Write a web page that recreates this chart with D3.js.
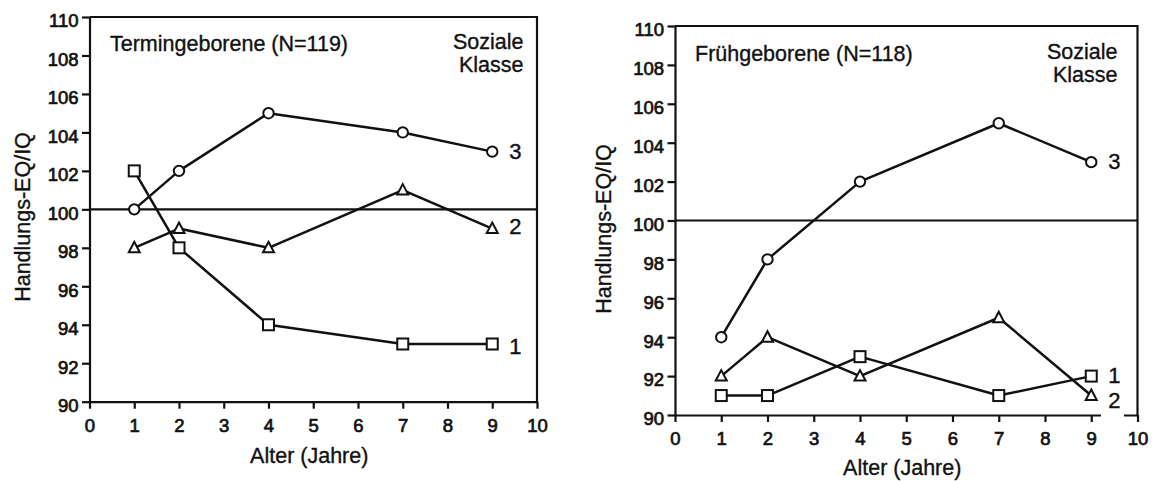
<!DOCTYPE html>
<html>
<head>
<meta charset="utf-8">
<script src="https://cdn.jsdelivr.net/npm/d3@7"></script>
<style>
  html, body { margin: 0; padding: 0; background: #fff; }
  svg { display: block; }
  text { font-family: "Liberation Sans", Arial, Helvetica, sans-serif; fill: #111; }
</style>
</head>
<body>
<svg id="chart" width="1154" height="481"></svg>
<script>
// ---------- data ----------
const ages = [1, 2, 4, 7, 9];
const xTicks = [0, 1, 2, 3, 4, 5, 6, 7, 8, 9, 10];
const yTicks = [90, 92, 94, 96, 98, 100, 102, 104, 106, 108, 110];
const classes = ["1", "2", "3"];

// Termingeborene (N=119)
const termClass1 = [102, 98, 94, 93, 93];
const termClass2 = [98, 99, 98, 101, 99];
const termClass3 = [100, 102, 105, 104, 103];

// Frühgeborene (N=118)
const fruehClass1 = [91, 91, 93, 91, 92];
const fruehClass2 = [92, 94, 92, 95, 91];
const fruehClass3 = [94, 98, 102, 105, 103];

const panelTitles = ["Termingeborene (N=119)", "Frühgeborene (N=118)"];
const legendTitle = ["Soziale", "Klasse"];
const xLabel = "Alter (Jahre)";
const yLabel = "Handlungs-EQ/IQ";
const referenceValue = 100;

// ---------- layout ----------
const svg = d3.select("#chart");
const markerShapes = { "1": "square", "2": "triangle", "3": "circle" };

const panels = [
  { title: panelTitles[0], series: [termClass1, termClass2, termClass3],
    x0: 89.5, x1: 537, y0: 401.7, y1: 17,
    titleX: 110, titleY: 50.7, legendRight: 523.5, legendY: 48.5,
    yLabelX: 29.5, yLabelY: 217, xLabelY: 463,
    labelDy: [10.5, 5.5, 7], gap: null },
  { title: panelTitles[1], series: [fruehClass1, fruehClass2, fruehClass3],
    x0: 675, x1: 1137.5, y0: 415, y1: 26,
    titleX: 695, titleY: 61, legendRight: 1117.5, legendY: 58.5,
    yLabelX: 611, yLabelY: 229, xLabelY: 475,
    labelDy: [7, 12, 7], gap: [1101, 1124] }
];

function heavy(sel, w) {
  return sel.attr("stroke", "#111").attr("stroke-width", w).attr("paint-order", "stroke");
}

panels.forEach(p => {
  const g = svg.append("g");
  const x = d3.scaleLinear().domain([0, 10]).range([p.x0, p.x1]);
  const y = d3.scaleLinear().domain([90, 110]).range([p.y0, p.y1]);

  // frame (top + right)
  g.append("path")
    .attr("d", `M${p.x0},${p.y1}H${p.x1}V${p.y0}`)
    .attr("fill", "none").attr("stroke", "#111").attr("stroke-width", 2.2);

  // axes
  const ax = g.append("g").attr("transform", `translate(0,${p.y0})`)
    .call(d3.axisBottom(x).tickValues(xTicks).tickSize(7).tickSizeOuter(0).tickPadding(10));
  const ay = g.append("g").attr("transform", `translate(${p.x0},0)`)
    .call(d3.axisLeft(y).tickValues(yTicks).tickSize(7.5).tickSizeOuter(0).tickPadding(3.5));
  [ax, ay].forEach(a => {
    a.select(".domain").attr("stroke", "#111").attr("stroke-width", 2.2);
    a.selectAll(".tick line").attr("stroke", "#111").attr("stroke-width", 2.2);
    a.selectAll(".tick text")
      .attr("font-size", 18.5).attr("fill", "#111")
      .attr("font-family", "'Liberation Sans', Arial, sans-serif");
    heavy(a.selectAll(".tick text"), 0.7);
  });
  ay.selectAll(".tick text").attr("dy", "0.53em");
  ax.selectAll(".tick line").attr("y2", 7);

  // reference line at 100
  g.append("line")
    .attr("x1", p.x0).attr("x2", p.x1)
    .attr("y1", y(referenceValue)).attr("y2", y(referenceValue))
    .attr("stroke", "#111").attr("stroke-width", 2.2);

  // series lines
  const line = d3.line().x((d, i) => x(ages[i])).y(d => y(d));
  p.series.forEach(vals => {
    g.append("path").datum(vals).attr("d", line)
      .attr("fill", "none").attr("stroke", "#111").attr("stroke-width", 2.5)
      .attr("stroke-linejoin", "round");
  });

  // markers
  p.series.forEach((vals, si) => {
    const shape = markerShapes[classes[si]];
    const mg = g.append("g");
    vals.forEach((v, i) => {
      const cx = x(ages[i]), cy = y(v);
      if (shape === "circle") {
        mg.append("circle").attr("cx", cx).attr("cy", cy).attr("r", 5.2)
          .attr("fill", "#fff").attr("stroke", "#111").attr("stroke-width", 2);
      } else if (shape === "square") {
        mg.append("rect").attr("x", cx - 5.5).attr("y", cy - 5.5).attr("width", 11).attr("height", 11)
          .attr("fill", "#fff").attr("stroke", "#111").attr("stroke-width", 2);
      } else {
        mg.append("path")
          .attr("d", `M${cx},${cy - 6}L${cx + 5.5},${cy + 4.5}L${cx - 5.5},${cy + 4.5}Z`)
          .attr("fill", "#fff").attr("stroke", "#111").attr("stroke-width", 2)
          .attr("stroke-linejoin", "miter");
      }
    });
    // class label at the end of the series
    const last = vals[vals.length - 1];
    if (p.gap && classes[si] === "2") {
      g.append("rect").attr("x", p.gap[0]).attr("y", p.y0 - 3)
        .attr("width", p.gap[1] - p.gap[0]).attr("height", 6).attr("fill", "#fff");
    }
    heavy(g.append("text")
      .attr("x", x(ages[ages.length - 1]) + 17).attr("y", y(last) + p.labelDy[si])
      .attr("font-size", 22).text(classes[si]), 0.4);
  });

  // title
  heavy(g.append("text").attr("x", p.titleX).attr("y", p.titleY)
    .attr("font-size", 21.5).text(p.title), 0.35);

  // legend title
  legendTitle.forEach((t, i) => {
    heavy(g.append("text").attr("x", p.legendRight).attr("y", p.legendY + i * 23.3)
      .attr("text-anchor", "end").attr("font-size", 21.5).text(t), 0.35);
  });

  // axis titles
  heavy(g.append("text").attr("x", (p.x0 + p.x1) / 2 - 4).attr("y", p.xLabelY)
    .attr("text-anchor", "middle").attr("font-size", 21.5).text(xLabel), 0.35);
  heavy(g.append("text")
    .attr("transform", `translate(${p.yLabelX},${p.yLabelY}) rotate(-90)`)
    .attr("text-anchor", "middle").attr("font-size", 21.5).text(yLabel), 0.35);
});
</script>
</body>
</html>
